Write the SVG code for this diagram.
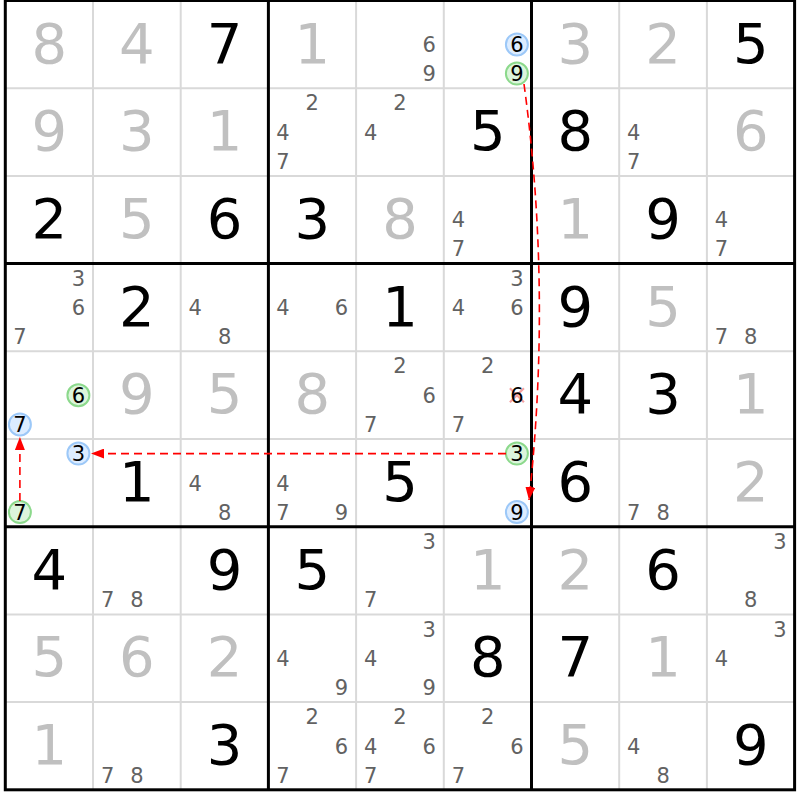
<svg xmlns="http://www.w3.org/2000/svg" width="800" height="800" viewBox="0 0 800 800">
<style>
text{font-family:"DejaVu Sans","Verdana",sans-serif;text-anchor:middle}
.G{font-size:56px;fill:#c0c0c0}
.B{font-size:56px;fill:#000}
.c{font-size:21px;fill:#626262}
.k{font-size:21px;fill:#000}
.cb{fill:#dcecff;stroke:#9cc8f8;stroke-width:2}
.cg{fill:#dcf5dc;stroke:#8cd98c;stroke-width:2}
.thin{stroke:#d9d9d9;stroke-width:2}
.thick{stroke:#000;stroke-width:3}
.arr{fill:none;stroke:#f00;stroke-width:1.6;stroke-dasharray:8 5;marker-end:url(#ah)}
</style>
<defs>
<marker id="ah" markerUnits="userSpaceOnUse" markerWidth="13" markerHeight="10" refX="13" refY="5" orient="auto">
<path d="M0,0 L13,5 L0,10 Z" fill="#f00"/>
</marker>
</defs>
<rect width="800" height="800" fill="#fff"/>
<g id="grid">
<g class="thin">
<line x1="93.0" y1="0.5" x2="93.0" y2="789.8"/>
<line x1="180.7" y1="0.5" x2="180.7" y2="789.8"/>
<line x1="356.1" y1="0.5" x2="356.1" y2="789.8"/>
<line x1="443.8" y1="0.5" x2="443.8" y2="789.8"/>
<line x1="619.2" y1="0.5" x2="619.2" y2="789.8"/>
<line x1="706.9" y1="0.5" x2="706.9" y2="789.8"/>
<line x1="5.3" y1="88.2" x2="794.6" y2="88.2"/>
<line x1="5.3" y1="175.9" x2="794.6" y2="175.9"/>
<line x1="5.3" y1="351.3" x2="794.6" y2="351.3"/>
<line x1="5.3" y1="439.0" x2="794.6" y2="439.0"/>
<line x1="5.3" y1="614.4" x2="794.6" y2="614.4"/>
<line x1="5.3" y1="702.1" x2="794.6" y2="702.1"/>
</g>
<g class="thick">
<line x1="268.4" y1="0.5" x2="268.4" y2="789.8"/>
<line x1="531.5" y1="0.5" x2="531.5" y2="789.8"/>
<line x1="5.3" y1="263.6" x2="794.6" y2="263.6"/>
<line x1="5.3" y1="526.7" x2="794.6" y2="526.7"/>
<rect x="5.3" y="0.5" width="789.3" height="789.3" fill="none"/>
</g>
</g>
<g id="cells">
<!-- row 1 -->
<g id="r1c1" transform="translate(5.3,0.5)"><text class="G" x="43.9" y="62">8</text></g>
<g id="r1c2" transform="translate(93.0,0.5)"><text class="G" x="43.9" y="62">4</text></g>
<g id="r1c3" transform="translate(180.7,0.5)"><text class="B" x="43.9" y="62">7</text></g>
<g id="r1c4" transform="translate(268.4,0.5)"><text class="G" x="43.9" y="62">1</text></g>
<g id="r1c5" transform="translate(356.1,0.5)"><text class="c" x="73.1" y="51.5">6</text><text class="c" x="73.1" y="80.5">9</text></g>
<g id="r1c6" transform="translate(443.8,0.5)"><circle class="cb" cx="73.1" cy="43.9" r="11"/><text class="k" x="73.1" y="51.5">6</text><circle class="cg" cx="73.1" cy="73.1" r="11"/><text class="k" x="73.1" y="80.5">9</text></g>
<g id="r1c7" transform="translate(531.5,0.5)"><text class="G" x="43.9" y="62">3</text></g>
<g id="r1c8" transform="translate(619.2,0.5)"><text class="G" x="43.9" y="62">2</text></g>
<g id="r1c9" transform="translate(706.9,0.5)"><text class="B" x="43.9" y="62">5</text></g>
<!-- row 2 -->
<g id="r2c1" transform="translate(5.3,88.2)"><text class="G" x="43.9" y="62">9</text></g>
<g id="r2c2" transform="translate(93.0,88.2)"><text class="G" x="43.9" y="62">3</text></g>
<g id="r2c3" transform="translate(180.7,88.2)"><text class="G" x="43.9" y="62">1</text></g>
<g id="r2c4" transform="translate(268.4,88.2)"><text class="c" x="43.9" y="22.2">2</text><text class="c" x="14.6" y="51.5">4</text><text class="c" x="14.6" y="80.5">7</text></g>
<g id="r2c5" transform="translate(356.1,88.2)"><text class="c" x="43.9" y="22.2">2</text><text class="c" x="14.6" y="51.5">4</text></g>
<g id="r2c6" transform="translate(443.8,88.2)"><text class="B" x="43.9" y="62">5</text></g>
<g id="r2c7" transform="translate(531.5,88.2)"><text class="B" x="43.9" y="62">8</text></g>
<g id="r2c8" transform="translate(619.2,88.2)"><text class="c" x="14.6" y="51.5">4</text><text class="c" x="14.6" y="80.5">7</text></g>
<g id="r2c9" transform="translate(706.9,88.2)"><text class="G" x="43.9" y="62">6</text></g>
<!-- row 3 -->
<g id="r3c1" transform="translate(5.3,175.9)"><text class="B" x="43.9" y="62">2</text></g>
<g id="r3c2" transform="translate(93.0,175.9)"><text class="G" x="43.9" y="62">5</text></g>
<g id="r3c3" transform="translate(180.7,175.9)"><text class="B" x="43.9" y="62">6</text></g>
<g id="r3c4" transform="translate(268.4,175.9)"><text class="B" x="43.9" y="62">3</text></g>
<g id="r3c5" transform="translate(356.1,175.9)"><text class="G" x="43.9" y="62">8</text></g>
<g id="r3c6" transform="translate(443.8,175.9)"><text class="c" x="14.6" y="51.5">4</text><text class="c" x="14.6" y="80.5">7</text></g>
<g id="r3c7" transform="translate(531.5,175.9)"><text class="G" x="43.9" y="62">1</text></g>
<g id="r3c8" transform="translate(619.2,175.9)"><text class="B" x="43.9" y="62">9</text></g>
<g id="r3c9" transform="translate(706.9,175.9)"><text class="c" x="14.6" y="51.5">4</text><text class="c" x="14.6" y="80.5">7</text></g>
<!-- row 4 -->
<g id="r4c1" transform="translate(5.3,263.6)"><text class="c" x="73.1" y="22.2">3</text><text class="c" x="73.1" y="51.5">6</text><text class="c" x="14.6" y="80.5">7</text></g>
<g id="r4c2" transform="translate(93.0,263.6)"><text class="B" x="43.9" y="62">2</text></g>
<g id="r4c3" transform="translate(180.7,263.6)"><text class="c" x="14.6" y="51.5">4</text><text class="c" x="43.9" y="80.5">8</text></g>
<g id="r4c4" transform="translate(268.4,263.6)"><text class="c" x="14.6" y="51.5">4</text><text class="c" x="73.1" y="51.5">6</text></g>
<g id="r4c5" transform="translate(356.1,263.6)"><text class="B" x="43.9" y="62">1</text></g>
<g id="r4c6" transform="translate(443.8,263.6)"><text class="c" x="73.1" y="22.2">3</text><text class="c" x="14.6" y="51.5">4</text><text class="c" x="73.1" y="51.5">6</text></g>
<g id="r4c7" transform="translate(531.5,263.6)"><text class="B" x="43.9" y="62">9</text></g>
<g id="r4c8" transform="translate(619.2,263.6)"><text class="G" x="43.9" y="62">5</text></g>
<g id="r4c9" transform="translate(706.9,263.6)"><text class="c" x="14.6" y="80.5">7</text><text class="c" x="43.9" y="80.5">8</text></g>
<!-- row 5 -->
<g id="r5c1" transform="translate(5.3,351.3)"><circle class="cg" cx="73.1" cy="43.9" r="11"/><text class="k" x="73.1" y="51.5">6</text><circle class="cb" cx="14.6" cy="73.1" r="11"/><text class="k" x="14.6" y="80.5">7</text></g>
<g id="r5c2" transform="translate(93.0,351.3)"><text class="G" x="43.9" y="62">9</text></g>
<g id="r5c3" transform="translate(180.7,351.3)"><text class="G" x="43.9" y="62">5</text></g>
<g id="r5c4" transform="translate(268.4,351.3)"><text class="G" x="43.9" y="62">8</text></g>
<g id="r5c5" transform="translate(356.1,351.3)"><text class="c" x="43.9" y="22.2">2</text><text class="c" x="73.1" y="51.5">6</text><text class="c" x="14.6" y="80.5">7</text></g>
<g id="r5c6" transform="translate(443.8,351.3)"><text class="c" x="43.9" y="22.2">2</text><path d="M66.1,36.9 L80.1,50.9 M80.1,36.9 L66.1,50.9" stroke="#f4a0a0" stroke-width="2.2" fill="none"/><text class="k" x="73.1" y="51.5">6</text><text class="c" x="14.6" y="80.5">7</text></g>
<g id="r5c7" transform="translate(531.5,351.3)"><text class="B" x="43.9" y="62">4</text></g>
<g id="r5c8" transform="translate(619.2,351.3)"><text class="B" x="43.9" y="62">3</text></g>
<g id="r5c9" transform="translate(706.9,351.3)"><text class="G" x="43.9" y="62">1</text></g>
<!-- row 6 -->
<g id="r6c1" transform="translate(5.3,439.0)"><circle class="cb" cx="73.1" cy="14.6" r="11"/><text class="k" x="73.1" y="22.2">3</text><circle class="cg" cx="14.6" cy="73.1" r="11"/><text class="k" x="14.6" y="80.5">7</text></g>
<g id="r6c2" transform="translate(93.0,439.0)"><text class="B" x="43.9" y="62">1</text></g>
<g id="r6c3" transform="translate(180.7,439.0)"><text class="c" x="14.6" y="51.5">4</text><text class="c" x="43.9" y="80.5">8</text></g>
<g id="r6c4" transform="translate(268.4,439.0)"><text class="c" x="14.6" y="51.5">4</text><text class="c" x="14.6" y="80.5">7</text><text class="c" x="73.1" y="80.5">9</text></g>
<g id="r6c5" transform="translate(356.1,439.0)"><text class="B" x="43.9" y="62">5</text></g>
<g id="r6c6" transform="translate(443.8,439.0)"><circle class="cg" cx="73.1" cy="14.6" r="11"/><text class="k" x="73.1" y="22.2">3</text><circle class="cb" cx="73.1" cy="73.1" r="11"/><text class="k" x="73.1" y="80.5">9</text></g>
<g id="r6c7" transform="translate(531.5,439.0)"><text class="B" x="43.9" y="62">6</text></g>
<g id="r6c8" transform="translate(619.2,439.0)"><text class="c" x="14.6" y="80.5">7</text><text class="c" x="43.9" y="80.5">8</text></g>
<g id="r6c9" transform="translate(706.9,439.0)"><text class="G" x="43.9" y="62">2</text></g>
<!-- row 7 -->
<g id="r7c1" transform="translate(5.3,526.7)"><text class="B" x="43.9" y="62">4</text></g>
<g id="r7c2" transform="translate(93.0,526.7)"><text class="c" x="14.6" y="80.5">7</text><text class="c" x="43.9" y="80.5">8</text></g>
<g id="r7c3" transform="translate(180.7,526.7)"><text class="B" x="43.9" y="62">9</text></g>
<g id="r7c4" transform="translate(268.4,526.7)"><text class="B" x="43.9" y="62">5</text></g>
<g id="r7c5" transform="translate(356.1,526.7)"><text class="c" x="73.1" y="22.2">3</text><text class="c" x="14.6" y="80.5">7</text></g>
<g id="r7c6" transform="translate(443.8,526.7)"><text class="G" x="43.9" y="62">1</text></g>
<g id="r7c7" transform="translate(531.5,526.7)"><text class="G" x="43.9" y="62">2</text></g>
<g id="r7c8" transform="translate(619.2,526.7)"><text class="B" x="43.9" y="62">6</text></g>
<g id="r7c9" transform="translate(706.9,526.7)"><text class="c" x="73.1" y="22.2">3</text><text class="c" x="43.9" y="80.5">8</text></g>
<!-- row 8 -->
<g id="r8c1" transform="translate(5.3,614.4)"><text class="G" x="43.9" y="62">5</text></g>
<g id="r8c2" transform="translate(93.0,614.4)"><text class="G" x="43.9" y="62">6</text></g>
<g id="r8c3" transform="translate(180.7,614.4)"><text class="G" x="43.9" y="62">2</text></g>
<g id="r8c4" transform="translate(268.4,614.4)"><text class="c" x="14.6" y="51.5">4</text><text class="c" x="73.1" y="80.5">9</text></g>
<g id="r8c5" transform="translate(356.1,614.4)"><text class="c" x="73.1" y="22.2">3</text><text class="c" x="14.6" y="51.5">4</text><text class="c" x="73.1" y="80.5">9</text></g>
<g id="r8c6" transform="translate(443.8,614.4)"><text class="B" x="43.9" y="62">8</text></g>
<g id="r8c7" transform="translate(531.5,614.4)"><text class="B" x="43.9" y="62">7</text></g>
<g id="r8c8" transform="translate(619.2,614.4)"><text class="G" x="43.9" y="62">1</text></g>
<g id="r8c9" transform="translate(706.9,614.4)"><text class="c" x="73.1" y="22.2">3</text><text class="c" x="14.6" y="51.5">4</text></g>
<!-- row 9 -->
<g id="r9c1" transform="translate(5.3,702.1)"><text class="G" x="43.9" y="62">1</text></g>
<g id="r9c2" transform="translate(93.0,702.1)"><text class="c" x="14.6" y="80.5">7</text><text class="c" x="43.9" y="80.5">8</text></g>
<g id="r9c3" transform="translate(180.7,702.1)"><text class="B" x="43.9" y="62">3</text></g>
<g id="r9c4" transform="translate(268.4,702.1)"><text class="c" x="43.9" y="22.2">2</text><text class="c" x="73.1" y="51.5">6</text><text class="c" x="14.6" y="80.5">7</text></g>
<g id="r9c5" transform="translate(356.1,702.1)"><text class="c" x="43.9" y="22.2">2</text><text class="c" x="14.6" y="51.5">4</text><text class="c" x="73.1" y="51.5">6</text><text class="c" x="14.6" y="80.5">7</text></g>
<g id="r9c6" transform="translate(443.8,702.1)"><text class="c" x="43.9" y="22.2">2</text><text class="c" x="73.1" y="51.5">6</text><text class="c" x="14.6" y="80.5">7</text></g>
<g id="r9c7" transform="translate(531.5,702.1)"><text class="G" x="43.9" y="62">5</text></g>
<g id="r9c8" transform="translate(619.2,702.1)"><text class="c" x="14.6" y="51.5">4</text><text class="c" x="43.9" y="80.5">8</text></g>
<g id="r9c9" transform="translate(706.9,702.1)"><text class="B" x="43.9" y="62">9</text></g>
</g>
<g id="connectors">
<path class="arr" d="M524,84 Q552,290 529,500"/>
<path class="arr" d="M506,453.6 L91,453.6"/>
<path class="arr" d="M19.9,501 L19.9,437"/>
</g>
</svg>
